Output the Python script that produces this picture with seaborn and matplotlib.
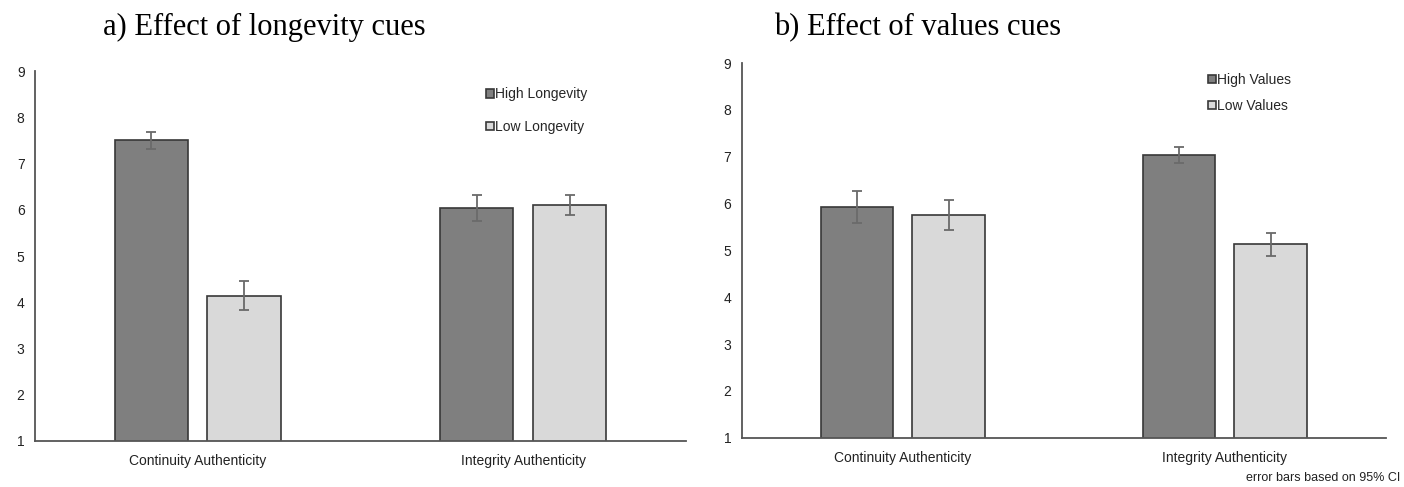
import matplotlib
matplotlib.use("Agg")
import matplotlib.pyplot as plt
import seaborn as sns
import pandas as pd

# Mean ratings (1-9 scale) with 95% CI half-widths
categories = ["Continuity Authenticity", "Integrity Authenticity"]

longevity_levels = ["High Longevity", "Low Longevity"]
longevity_high = [7.50, 6.03]
longevity_high_ci = [0.19, 0.28]
longevity_low = [4.14, 6.10]
longevity_low_ci = [0.31, 0.22]

values_levels = ["High Values", "Low Values"]
values_high = [5.92, 7.03]
values_high_ci = [0.34, 0.17]
values_low = [5.76, 5.13]
values_low_ci = [0.32, 0.25]

yticks = [1, 2, 3, 4, 5, 6, 7, 8, 9]
titles = ["a) Effect of longevity cues", "b) Effect of values cues"]
footnote = "error bars based on 95% CI"

DARK = "#7f7f7f"
LIGHT = "#d9d9d9"
EDGE = "#383838"
ERR = "#6a6a6a"
AXIS = "#555555"

sns.set_theme(style="white")
plt.rcParams["font.family"] = ["Liberation Sans", "DejaVu Sans"]

fig = plt.figure(figsize=(14.04, 4.87), dpi=100)
ax_a = fig.add_axes([0.0249, 0.0945, 0.4637, 0.7595])
ax_b = fig.add_axes([0.5283, 0.1012, 0.4587, 0.7694])


def long_frame(levels, high, low):
    return pd.DataFrame({
        "category": categories * 2,
        "group": [levels[0]] * len(categories) + [levels[1]] * len(categories),
        "score": list(high) + list(low),
    })


def draw_panel(ax, levels, high, high_ci, low, low_ci, leg_anchor, leg_spacing):
    df = long_frame(levels, high, low)
    sns.barplot(data=df, x="category", y="score", hue="group",
                hue_order=levels, order=categories,
                palette=[DARK, LIGHT], width=0.57, gap=0.21,
                errorbar=None, edgecolor=EDGE, linewidth=1.2, ax=ax)
    bars = [p for p in ax.patches if p.get_height() > 0]
    xs = [b.get_x() + b.get_width() / 2 for b in bars]
    ys = [b.get_height() for b in bars]
    errs = list(high_ci) + list(low_ci)
    ax.errorbar(xs, ys, yerr=errs, fmt="none", ecolor=ERR,
                elinewidth=1.3, capsize=3.8, capthick=1.3, zorder=5)

    ax.set_ylim(1, 9)
    ax.set_xlim(-0.5, 1.5)
    ax.set_yticks(yticks)
    ax.set_xlabel("")
    ax.set_ylabel("")
    ax.tick_params(axis="both", length=0, labelsize=10, colors="#222222")
    ax.tick_params(axis="y", pad=7.5)
    ax.tick_params(axis="x", pad=9.5)
    for side in ("top", "right"):
        ax.spines[side].set_visible(False)
    for side in ("left", "bottom"):
        ax.spines[side].set_color(AXIS)
        ax.spines[side].set_linewidth(1.3)

    handles, labels = ax.get_legend_handles_labels()
    ax.legend(handles, labels, loc="upper left", bbox_to_anchor=leg_anchor,
              frameon=False, fontsize=10, handlelength=0.55, handleheight=0.55,
              handletextpad=0.1, labelspacing=leg_spacing, borderpad=0,
              borderaxespad=0)


draw_panel(ax_a, longevity_levels, longevity_high, longevity_high_ci,
           longevity_low, longevity_low_ci, (0.693, 0.956), 1.35)
draw_panel(ax_b, values_levels, values_high, values_high_ci,
           values_low, values_low_ci, (0.724, 0.973), 0.83)

title_font = dict(family=["Liberation Serif", "DejaVu Serif"], fontsize=22,
                  va="baseline", ha="left", color="black")
fig.text(103 / 1404, 1 - 35 / 487, titles[0], **title_font)
fig.text(774 / 1404, 1 - 35 / 487, titles[1], **title_font)

fig.text(0.997, 1 - 478 / 487, footnote, fontsize=9, ha="right",
         va="center", color="#222222")

fig.savefig("out.png", dpi=100)
